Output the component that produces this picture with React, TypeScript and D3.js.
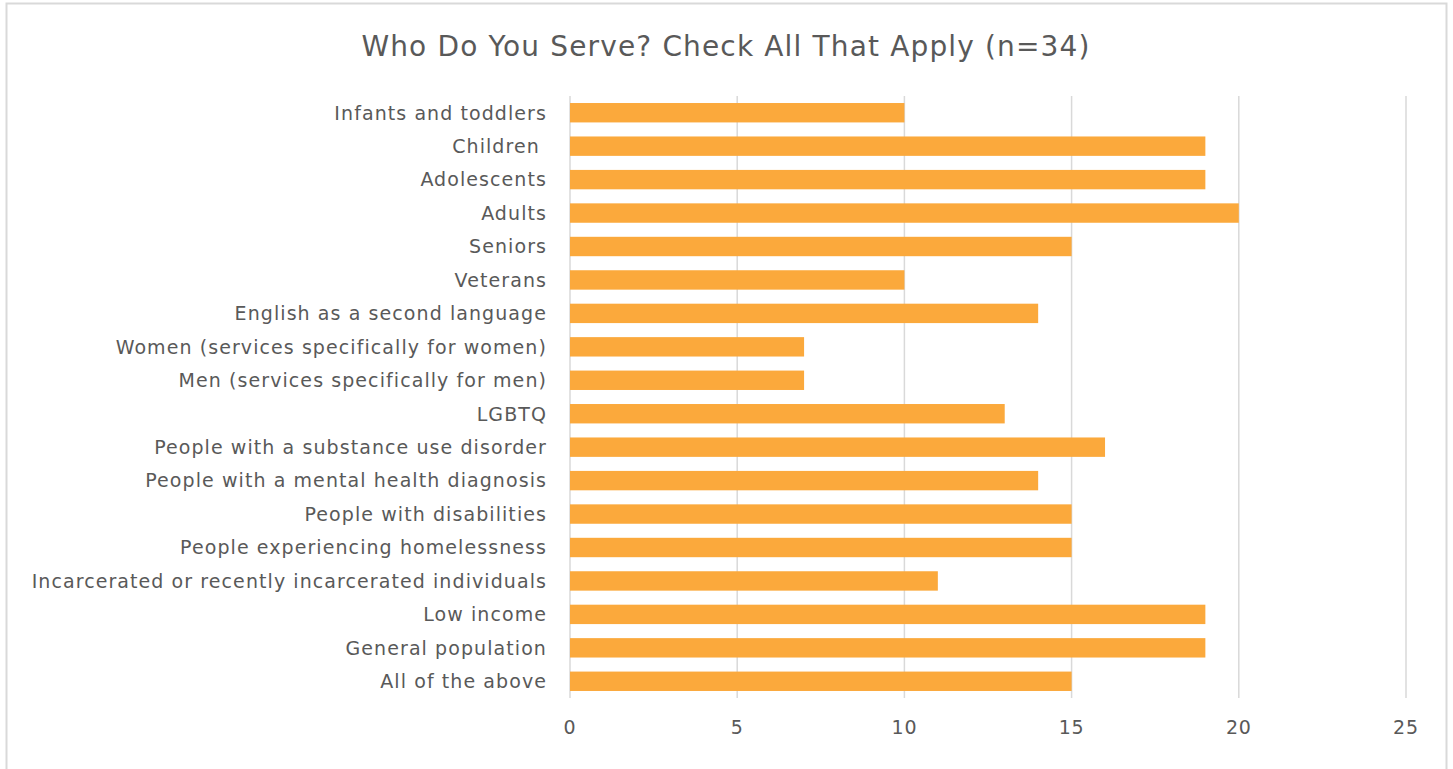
import React from "react";
import * as d3 from "d3";

const categories = [
  "Infants and toddlers",
  "Children ",
  "Adolescents",
  "Adults",
  "Seniors",
  "Veterans",
  "English as a second language",
  "Women (services specifically for women)",
  "Men (services specifically for men)",
  "LGBTQ",
  "People with a substance use disorder",
  "People with a mental health diagnosis",
  "People with disabilities",
  "People experiencing homelessness",
  "Incarcerated or recently incarcerated individuals",
  "Low income",
  "General population",
  "All of the above",
];
const values = [10, 19, 19, 20, 15, 10, 14, 7, 7, 13, 16, 14, 15, 15, 11, 19, 19, 15];
const xTicks = [0, 5, 10, 15, 20, 25];
const title = "Who Do You Serve? Check All That Apply (n=34)";

const W = 1453;
const H = 769;
const plot = { left: 570, right: 1406, top: 96, bottom: 698 };
const textColor = "#595959";
const barColor = "#FBA93C";
const font = "'DejaVu Sans', sans-serif";

export default function App() {
  const x = d3.scaleLinear().domain([0, 25]).range([plot.left, plot.right]);
  const y = d3
    .scaleBand<string>()
    .domain(categories)
    .range([plot.top, plot.bottom])
    .paddingInner(0.42)
    .paddingOuter(0.21);
  return (
    <svg
      width={W}
      height={H}
      style={{ position: "absolute", left: 0, top: 0, background: "#fff" }}
      fontFamily={font}
    >
      <rect x={6.5} y={3.5} width={1440} height={800} fill="#fff" stroke="#d9d9d9" strokeWidth={2} />
      <text x={726} y={56} textAnchor="middle" fontSize={28} letterSpacing={1.15} fill={textColor}>
        {title}
      </text>
      {xTicks.map((t) => (
        <g key={t}>
          <line x1={x(t)} x2={x(t)} y1={plot.top} y2={plot.bottom} stroke="#d9d9d9" strokeWidth={1.5} />
          <text x={x(t)} y={734} textAnchor="middle" fontSize={19} letterSpacing={0.8} fill={textColor}>
            {t}
          </text>
        </g>
      ))}
      {categories.map((c, i) => (
        <g key={c}>
          <rect x={x(0)} y={y(c)} width={x(values[i]) - x(0)} height={y.bandwidth()} fill={barColor} />
          <text
            x={547}
            y={(y(c) as number) + y.bandwidth() / 2}
            dy="0.36em"
            textAnchor="end"
            fontSize={19}
            letterSpacing={1.08}
            fill={textColor}
            style={{ whiteSpace: "pre" }}
          >
            {c}
          </text>
        </g>
      ))}
    </svg>
  );
}
